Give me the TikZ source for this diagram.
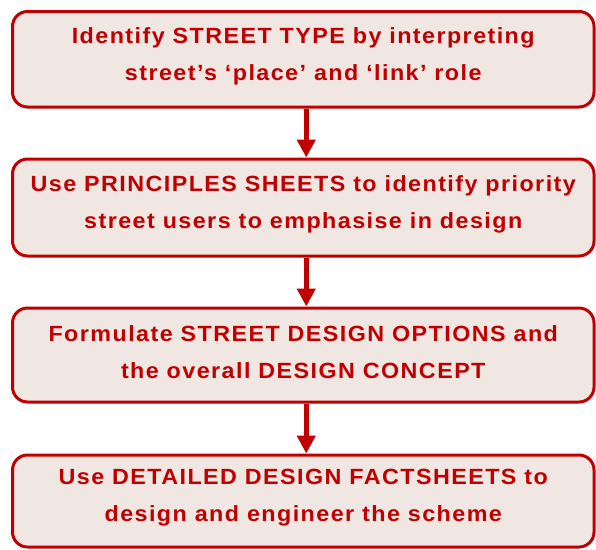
\documentclass[tikz,border=0pt]{standalone}
\usepackage{fontspec}
\setmainfont{Liberation Sans}[LetterSpace=6.5,FakeStretch=1.06]
\usetikzlibrary{arrows.meta}
\definecolor{rd}{HTML}{C00000}
\definecolor{pk}{HTML}{F0E6E2}
\tikzset{
  box/.style={draw=rd, line width=3pt, fill=pk, rounded corners=15pt,
    minimum width=581.5pt, inner sep=0pt},
  txt/.style={text=rd, font=\fontsize{22}{37}\selectfont\bfseries, align=center, inner sep=0pt},
  arr/.style={draw=rd, line width=5pt, -{Triangle[width=18pt,length=18pt]}}
}
\begin{document}
\begin{tikzpicture}[x=1pt,y=-1pt]
\useasboundingbox (0,0) rectangle (596,549);
\node[box, minimum height=95.5pt] (b1) at (303.25,59.25) {};
\node[box, minimum height=97pt] (b2) at (303.25,207.5) {};
\node[box, minimum height=94pt] (b3) at (303.25,355) {};
\node[box, minimum height=92pt] (b4) at (303.25,501) {};
\node[txt] (t1) at ([yshift=3pt]b1.center) {Identify STREET TYPE by interpreting\\street’s ‘place’ and ‘link’ role};
\node[txt] (t2) at ([yshift=3pt]b2.center) {Use PRINCIPLES SHEETS to identify priority\\street users to emphasise in design};
\node[txt] (t3) at ([yshift=3pt]b3.center) {Formulate STREET DESIGN OPTIONS and\\the overall DESIGN CONCEPT};
\node[txt] (t4) at ([yshift=3pt]b4.center) {Use DETAILED DESIGN FACTSHEETS to\\design and engineer the scheme};
\draw[arr] ([xshift=3pt]b1.south) -- ([xshift=3pt]b2.north);
\draw[arr] ([xshift=3pt]b2.south) -- ([xshift=3pt]b3.north);
\draw[arr] ([xshift=3pt]b3.south) -- ([xshift=3pt]b4.north);
\end{tikzpicture}
\end{document}
